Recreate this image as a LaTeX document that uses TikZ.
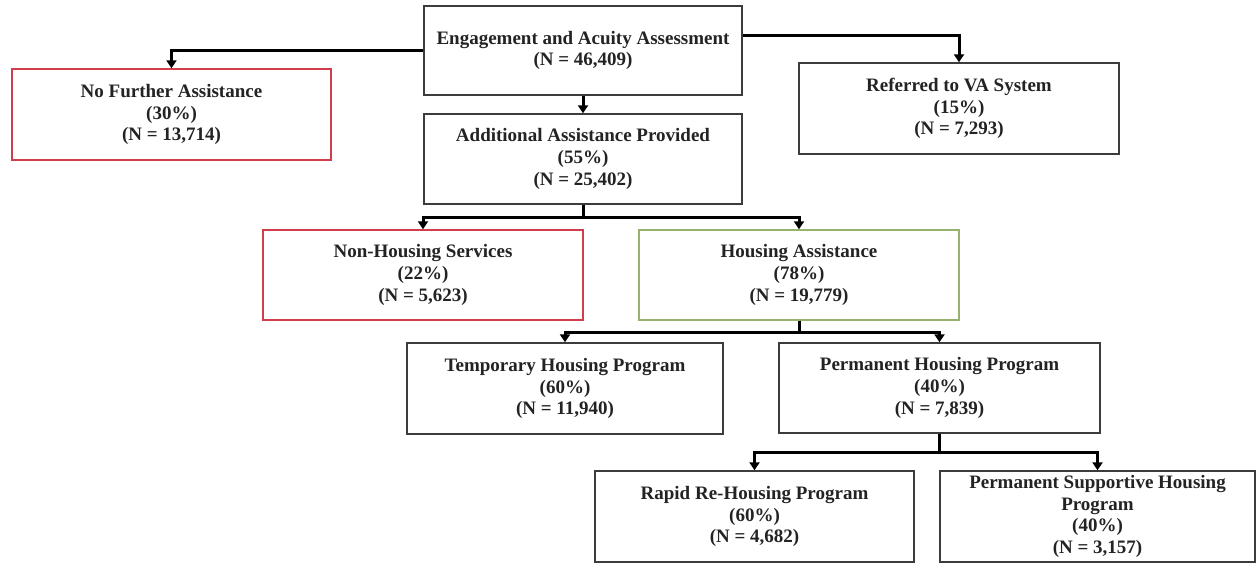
\documentclass[tikz,border=0pt]{standalone}
\usepackage{fontspec}
\setmainfont{Liberation Serif}
\usetikzlibrary{arrows.meta}
\definecolor{boxgray}{RGB}{60,60,60}
\definecolor{txtcol}{RGB}{35,35,35}
\definecolor{redbox}{RGB}{208,62,78}
\definecolor{greenbox}{RGB}{150,178,108}
\begin{document}
\begin{tikzpicture}[x=1pt,y=-1pt,
  box/.style={draw=boxgray, line width=1.4pt, align=center, text=txtcol,
    font=\bfseries\fontsize{19}{21.8}\selectfont, inner sep=0pt, fill=white},
  redb/.style={box, draw=redbox},
  greenb/.style={box, draw=greenbox},
  conn/.style={line width=3pt, draw=black, -{Triangle[width=10pt,length=8pt]}}]
\useasboundingbox (0,0) rectangle (1256,563);

\node[box, minimum width=318pt, minimum height=89pt] (eng) at (583,50.5)
  {Engagement and Acuity Assessment\\(N = 46,409)};
\node[box, minimum width=318pt, minimum height=90pt] (add) at (583,159)
  {Additional Assistance Provided\\(55\%)\\(N = 25,402)};
\node[redb, minimum width=319pt, minimum height=91pt] (nfa) at (171.5,114.5)
  {No Further Assistance\\(30\%)\\(N = 13,714)};
\node[box, minimum width=320pt, minimum height=91pt] (ref) at (959,108.5)
  {Referred to VA System\\(15\%)\\(N = 7,293)};
\node[redb, minimum width=320pt, minimum height=90pt] (nhs) at (423,275)
  {Non-Housing Services\\(22\%)\\(N = 5,623)};
\node[greenb, minimum width=320pt, minimum height=90pt] (ha) at (799,275)
  {Housing Assistance\\(78\%)\\(N = 19,779)};
\node[box, minimum width=316pt, minimum height=91pt] (temp) at (565,388.5)
  {Temporary Housing Program\\(60\%)\\(N = 11,940)};
\node[box, minimum width=321pt, minimum height=90pt] (perm) at (939.5,388)
  {Permanent Housing Program\\(40\%)\\(N = 7,839)};
\node[box, minimum width=319pt, minimum height=91pt] (rapid) at (754.5,516.5)
  {Rapid Re-Housing Program\\(60\%)\\(N = 4,682)};
\node[box, minimum width=315pt, minimum height=91pt] (psh) at (1097.5,516.5)
  {Permanent Supportive Housing\\Program\\(40\%)\\(N = 3,157)};

\coordinate (r1) at (0,35);
\draw[conn] (eng.west) -| (nfa.north);
\draw[conn] (eng.east |- r1) -| (ref.north);
\draw[conn] (eng.south) -- (add.north);
\draw[conn] (add.south) -- ++(0,13) -| (nhs.north);
\draw[conn] (add.south) -- ++(0,13) -| (ha.north);
\draw[conn] (ha.south) -- ++(0,12) -| (temp.north);
\draw[conn] (ha.south) -- ++(0,12) -| (perm.north);
\draw[conn] (perm.south) -- ++(0,19) -| (rapid.north);
\draw[conn] (perm.south) -- ++(0,19) -| (psh.north);
\end{tikzpicture}
\end{document}
